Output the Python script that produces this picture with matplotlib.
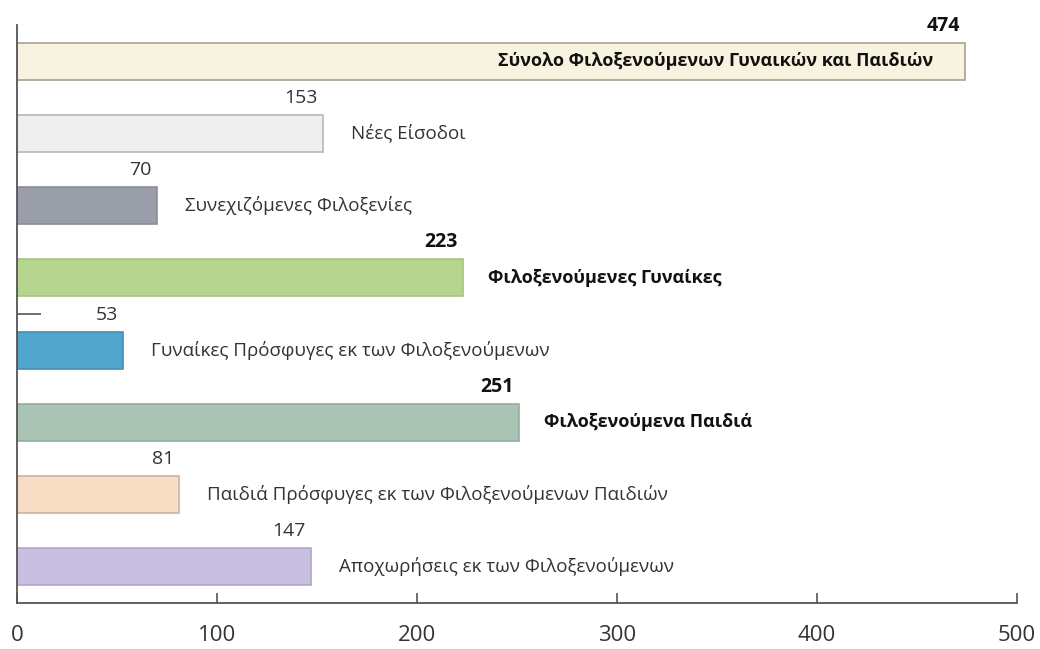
import matplotlib.pyplot as plt

plt.rcParams['font.family'] = ['Open Sans', 'DejaVu Sans']

# data
labels = ['Σύνολο Φιλοξενούμενων Γυναικών και Παιδιών',
          'Νέες Είσοδοι',
          'Συνεχιζόμενες Φιλοξενίες',
          'Φιλοξενούμενες Γυναίκες',
          'Γυναίκες Πρόσφυγες εκ των Φιλοξενούμενων',
          'Φιλοξενούμενα Παιδιά',
          'Παιδιά Πρόσφυγες εκ των Φιλοξενούμενων Παιδιών',
          'Αποχωρήσεις εκ των Φιλοξενούμενων']
values = [474, 153, 70, 223, 53, 251, 81, 147]
is_total = [True, False, False, True, False, True, False, False]
colors = ['#f8f3e0', '#efefef', '#9a9ea9', '#b6d68f',
          '#4fa5cb', '#a9c3b4', '#f8dcc3', '#c9bfe0']
edges = ['#a3a392', '#b8b8b8', '#8a8e96', '#a6c47f',
         '#468fb0', '#95ad9f', '#c9b4a0', '#b0a6c8']

fig = plt.figure(figsize=(10.4, 6.49), dpi=100)
ax = fig.add_axes([0.0163, 0.0709, 0.978 - 0.0163, 0.9615 - 0.0709])

ypos = list(range(len(values)))
ax.barh(ypos, values, height=0.51, color=colors, edgecolor=edges, linewidth=1.2)

for i, (lab, v, b) in enumerate(zip(labels, values, is_total)):
    w = 'bold' if b else 'normal'
    c = '#111111' if b else '#333333'
    # value above bar end
    ax.text(v - 2.5, i - 0.49, str(v), ha='right', va='center',
            fontsize=14, fontweight=w, color=c)
    if i == 0:
        ax.text(v - 16, i, lab, ha='right', va='center',
                fontsize=13, fontweight='bold', color='#111111')
    elif b:
        ax.text(v + 12.5, i, lab, ha='left', va='center',
                fontsize=13, fontweight='bold', color='#111111')
    else:
        ax.text(v + 14, i, lab, ha='left', va='center',
                fontsize=13.5, color='#333333')

ax.set_xlim(0, 500)
ax.set_ylim(7.5, -0.5)
ax.set_xticks([0, 100, 200, 300, 400, 500])
ax.tick_params(axis='x', direction='in', length=7, width=1.2, color='#555555',
               labelsize=16, labelcolor='#333333', pad=16)
ax.set_yticks([3.5])
ax.set_yticklabels([''])
ax.tick_params(axis='y', direction='in', length=17, width=1.2, color='#555555')

for s in ['top', 'right']:
    ax.spines[s].set_visible(False)
for s in ['left', 'bottom']:
    ax.spines[s].set_color('#555555')
    ax.spines[s].set_linewidth(1.3)

fig.savefig('out.png', dpi=100)
